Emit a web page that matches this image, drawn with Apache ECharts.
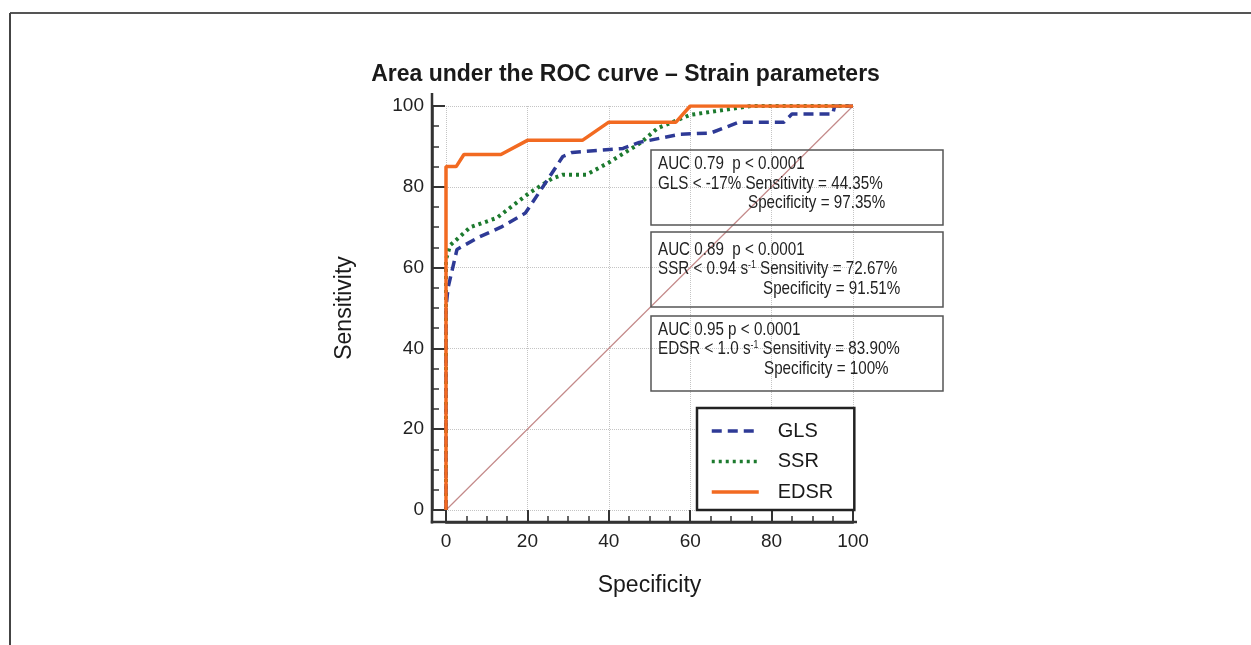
<!DOCTYPE html>
<html>
<head>
<meta charset="utf-8">
<title>ROC - Strain parameters</title>
<script src="https://cdn.jsdelivr.net/npm/echarts@6/dist/echarts.min.js"></script>
<style>
  html, body { margin: 0; padding: 0; background: #fff; }
  #main { width: 1251px; height: 645px; }
</style>
</head>
<body>
<div id="main"></div>
<script>
// ROC curves, points are [specificity axis, sensitivity]
var glsPoints = [[0,0],[0,50],[0.5,55],[2.7,64.5],[8,67.5],[13.5,70],[19.5,73.5],[24.8,81.5],[28.7,87.5],[31,88.5],[43.5,89.5],[47.5,91],[57.5,93],[65,93.3],[72,96],[83,96],[85,98],[95,98],[95.5,100],[100,100]];
var ssrPoints = [[0,0],[0,62],[1,65.5],[6,70],[12.5,72.3],[20.5,78.5],[26,82],[28.7,83],[34.5,83],[40,86],[47.7,90.8],[52,94.5],[60,97.8],[75,100],[100,100]];
var edsrPoints = [[0,0],[0,85],[2.5,85],[4.4,88],[13.5,88],[20,91.5],[33.5,91.5],[40,96],[56.5,96],[60,100],[100,100]];
var diagPoints = [[0,0],[100,100]];
var seriesNames = ['GLS', 'SSR', 'EDSR'];
var axisMin = 0, axisMax = 100, axisStep = 20;

// text of the three result boxes
var boxTexts = [
    ['AUC 0.79  p < 0.0001', 'GLS < -17% Sensitivity = 44.35%', 'Specificity = 97.35%'],
    ['AUC 0.89  p < 0.0001', 'SSR < 0.94 s{sup|-1} Sensitivity = 72.67%', 'Specificity = 91.51%'],
    ['AUC 0.95 p < 0.0001', 'EDSR < 1.0 s{sup|-1} Sensitivity = 83.90%', 'Specificity = 100%']
];

var myChart = echarts.init(document.getElementById('main'));

var txtFont = 'Liberation Sans, Arial, sans-serif';
var boxTop = [150, 232, 316];
var lineOff = [[14, 33.5, 53], [17.5, 37, 56.5], [13.5, 33, 52.5]];
var line3X = [748, 763, 764];

var graphics = [
    // frame of the figure
    {type: 'line', shape: {x1: 10, y1: 13, x2: 1251, y2: 13}, style: {stroke: '#555', lineWidth: 2}},
    {type: 'line', shape: {x1: 10, y1: 13, x2: 10, y2: 645}, style: {stroke: '#444', lineWidth: 2}},
    // corner of the axes
    {type: 'line', shape: {x1: 432, y1: 93, x2: 432, y2: 523.5}, style: {stroke: '#333', lineWidth: 2.5}, z: 5},
    {type: 'line', shape: {x1: 430.8, y1: 522, x2: 857, y2: 522}, style: {stroke: '#333', lineWidth: 2.5}, z: 5}
];
for (var b = 0; b < boxTexts.length; b++) {
    graphics.push({
        type: 'rect',
        shape: {x: 651, y: boxTop[b], width: 292, height: 75},
        style: {fill: 'none', stroke: '#555', lineWidth: 1.5},
        z: 10
    });
    for (var l = 0; l < 3; l++) {
        graphics.push({
            type: 'text',
            x: l === 2 ? line3X[b] : 658,
            y: boxTop[b] + lineOff[b][l],
            scaleX: 0.8,
            z: 11,
            style: {
                text: boxTexts[b][l],
                fill: '#222',
                font: '19px ' + txtFont,
                verticalAlign: 'middle',
                rich: {
                    sup: {fontSize: 11, fontFamily: txtFont, fill: '#222', verticalAlign: 'top', padding: [0, 0, 9, 0]}
                }
            }
        });
    }
}

var option = {
    animation: false,
    backgroundColor: '#fff',
    title: {
        text: 'Area under the ROC curve \u2013 Strain parameters',
        left: 'center',
        top: 58,
        textStyle: {fontSize: 23, fontWeight: 'bold', color: '#1a1a1a', fontFamily: txtFont}
    },
    legend: {
        data: seriesNames,
        orient: 'vertical',
        left: 697,
        top: 408,
        padding: [13, 21, 8, 13],
        itemWidth: 47,
        itemHeight: 20,
        itemGap: 10.5,
        backgroundColor: '#fff',
        borderColor: '#222',
        borderWidth: 2.5,
        borderRadius: 0,
        itemStyle: {opacity: 0, borderWidth: 0},
        lineStyle: {width: 3.5},
        textStyle: {fontSize: 20, color: '#1a1a1a', fontFamily: txtFont, padding: [0, 0, 0, 14]}
    },
    grid: {left: 446, top: 106, width: 407, height: 404},
    xAxis: {
        type: 'value',
        min: axisMin,
        max: axisMax,
        interval: axisStep,
        offset: 12,
        name: 'Specificity',
        nameLocation: 'middle',
        nameGap: 52,
        nameTextStyle: {fontSize: 23, color: '#1a1a1a', fontFamily: txtFont},
        axisLine: {onZero: false, lineStyle: {color: '#333', width: 2.5}},
        axisTick: {inside: true, length: 12, lineStyle: {color: '#333', width: 2}},
        minorTick: {show: true, splitNumber: 4, length: 6, lineStyle: {color: '#333', width: 1.5}},
        axisLabel: {margin: 10, fontSize: 19, color: '#222', fontFamily: txtFont},
        splitLine: {show: true, lineStyle: {color: '#c4c4c4', type: 'dotted', width: 1}}
    },
    yAxis: {
        type: 'value',
        min: axisMin,
        max: axisMax,
        interval: axisStep,
        offset: 14,
        name: 'Sensitivity',
        nameLocation: 'middle',
        nameGap: 76,
        nameTextStyle: {fontSize: 23, color: '#1a1a1a', fontFamily: txtFont},
        axisLine: {onZero: false, lineStyle: {color: '#333', width: 2.5}},
        axisTick: {inside: true, length: 13, lineStyle: {color: '#333', width: 2}},
        minorTick: {show: true, splitNumber: 4, length: 7, lineStyle: {color: '#333', width: 1.5}},
        axisLabel: {margin: 8, fontSize: 19, color: '#222', fontFamily: txtFont},
        splitLine: {show: true, lineStyle: {color: '#c4c4c4', type: 'dotted', width: 1}}
    },
    series: [
        {
            name: 'diag',
            type: 'line',
            data: diagPoints,
            symbol: 'none',
            silent: true,
            lineStyle: {color: '#c48a8a', width: 1.2}
        },
        {
            name: 'SSR',
            type: 'line',
            data: ssrPoints,
            symbol: 'none',
            z: 3,
            lineStyle: {color: '#1c7a2e', width: 4, type: [3, 4]}
        },
        {
            name: 'GLS',
            type: 'line',
            data: glsPoints,
            symbol: 'none',
            z: 4,
            lineStyle: {color: '#2e3a96', width: 3.5, type: [10, 6]}
        },
        {
            name: 'EDSR',
            type: 'line',
            data: edsrPoints,
            symbol: 'none',
            z: 5,
            lineStyle: {color: '#f26a21', width: 3.5}
        }
    ],
    graphic: graphics
};
myChart.setOption(option);
</script>
</body>
</html>
